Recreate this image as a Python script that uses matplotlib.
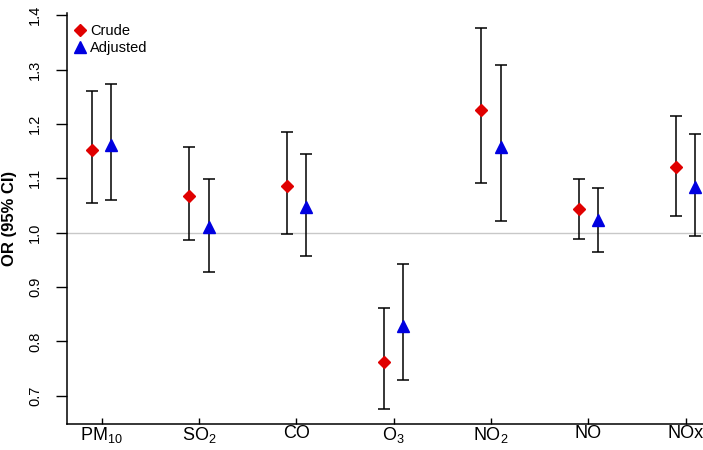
import numpy as np
import matplotlib
matplotlib.use("Agg")
import matplotlib.pyplot as plt

plt.rcParams["font.family"] = ["Liberation Sans", "DejaVu Sans"]

# contaminantes y OR (crudo / ajustado)
contaminantes = ["PM$_\\mathregular{10}$", "SO$_\\mathregular{2}$", "CO", "O$_\\mathregular{3}$",
                 "NO$_\\mathregular{2}$", "NO", "NOx"]
or_crudo = [1.152, 1.068, 1.086, 0.762, 1.225, 1.043, 1.120]
ci_crudo_inf = [1.055, 0.987, 0.997, 0.676, 1.091, 0.989, 1.030]
ci_crudo_sup = [1.260, 1.158, 1.185, 0.862, 1.376, 1.098, 1.215]
or_ajust = [1.162, 1.010, 1.048, 0.829, 1.157, 1.024, 1.084]
ci_ajust_inf = [1.061, 0.928, 0.957, 0.729, 1.021, 0.965, 0.993]
ci_ajust_sup = [1.274, 1.098, 1.144, 0.942, 1.309, 1.082, 1.182]

x = np.arange(len(contaminantes))
desp = 0.1

fig = plt.figure(figsize=(7.03, 4.5), dpi=100)
ax = fig.add_axes([0.0953, 0.0578, 0.9047, 0.913])

ax.axhline(1.0, color="#c8c8c8", lw=1, zorder=1)

c = np.array(or_crudo)
ax.errorbar(x - desp, c, yerr=[c - np.array(ci_crudo_inf), np.array(ci_crudo_sup) - c],
            fmt="none", ecolor="black", elinewidth=1.1, capsize=4.3, capthick=1.1, zorder=2)
ax.plot(x - desp, c, "D", color="#e00000", markersize=6.5, zorder=3, label="Crude")

a = np.array(or_ajust)
ax.errorbar(x + desp, a, yerr=[a - np.array(ci_ajust_inf), np.array(ci_ajust_sup) - a],
            fmt="none", ecolor="black", elinewidth=1.1, capsize=4.3, capthick=1.1, zorder=2)
ax.plot(x + desp, a, "^", color="#0000e0", markersize=8, zorder=3, label="Adjusted")

ax.set_xlim(-0.357, 6.178)
ax.set_ylim(0.648, 1.404)
ax.set_xticks(x)
ax.set_xticklabels(contaminantes, fontsize=13)
ax.set_yticks([0.7, 0.8, 0.9, 1.0, 1.1, 1.2, 1.3, 1.4])
ax.set_yticklabels(["0.7", "0.8", "0.9", "1.0", "1.1", "1.2", "1.3", "1.4"],
                   rotation=90, va="center", fontsize=10.5)
ax.tick_params(axis="x", direction="in", length=4.5, width=1, pad=1)
ax.tick_params(axis="y", direction="out", length=8, width=1, pad=10)

for s in ["top", "right"]:
    ax.spines[s].set_visible(False)
for s in ["left", "bottom"]:
    ax.spines[s].set_linewidth(1.1)

ax.set_ylabel("OR (95% CI)", fontsize=12, fontweight="bold")
ax.yaxis.set_label_coords(-0.079, 0.5)

ax.legend(loc="upper left", bbox_to_anchor=(-0.01, 0.998), frameon=False, fontsize=10.5,
          handletextpad=0.1, borderaxespad=0.3, labelspacing=0.2, handlelength=1.2)

fig.savefig("out.png", dpi=100)
